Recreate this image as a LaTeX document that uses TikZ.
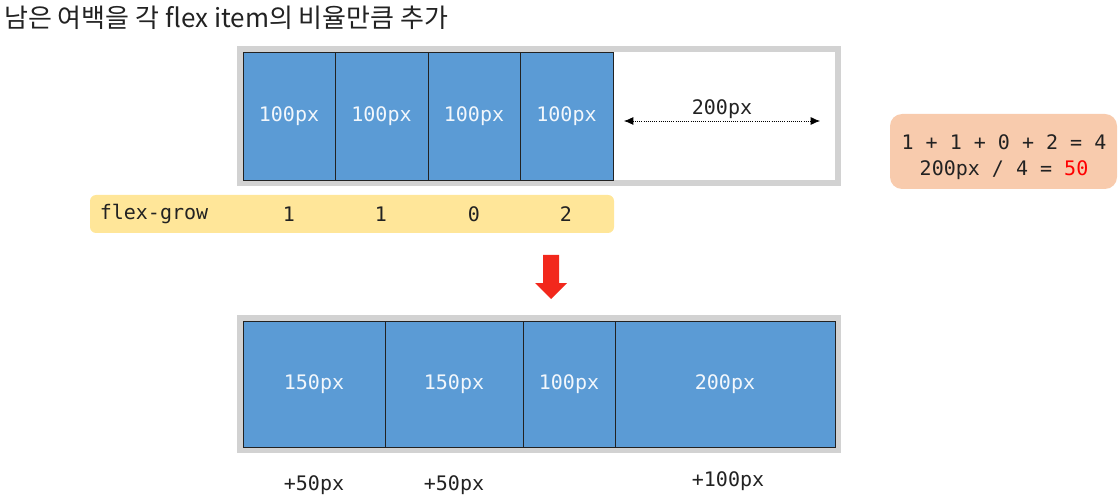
\documentclass[tikz,border=0pt]{standalone}
\usepackage{fontspec}
\setmonofont{DejaVu Sans Mono}
\newfontfamily\krfont{Noto Sans CJK KR}
\usetikzlibrary{arrows.meta}

\definecolor{itemblue}{HTML}{5B9BD5}
\definecolor{framegray}{HTML}{D2D2D2}
\definecolor{growyellow}{HTML}{FFE699}
\definecolor{calcorange}{HTML}{F8CBAD}
\definecolor{downred}{HTML}{F2281C}
\definecolor{ink}{HTML}{222222}

\tikzset{
  frame/.style = {draw=framegray, line width=4.5pt, fill=white},
  item/.style = {fill=itemblue, draw=ink, line width=0.7pt},
  itemlabel/.style = {text=white!92!itemblue, font=\ttfamily\fontsize{15}{18}\selectfont},
  mono/.style = {text=ink, font=\ttfamily\fontsize{15}{18}\selectfont},
  gap/.style = {densely dotted, line width=0.6pt, {Latex[length=7pt,width=6pt]}-{Latex[length=7pt,width=6pt]}}
}

\begin{document}
\begin{tikzpicture}[x=0.75pt, y=-0.75pt]
\useasboundingbox (0,0) rectangle (1120,495);
\node[anchor=west, text=ink, font=\krfont\fontsize{19.5}{22}\selectfont, inner sep=0pt] (title) at (4,18) {남은 여백을 각 flex item의 비율만큼 추가};

% before
\draw[frame] (240,49) rectangle (838,183);
\draw[item] (243,52) rectangle node[itemlabel] (b1) {100px} (335,180);
\draw[item] (335,52) rectangle node[itemlabel] (b2) {100px} (428,180);
\draw[item] (428,52) rectangle node[itemlabel] (b3) {100px} (520,180);
\draw[item] (520,52) rectangle node[itemlabel] (b4) {100px} (613,180);
\coordinate (gapl) at (624,121);
\coordinate (gapr) at (820,121);
\draw[gap] (gapl) -- (gapr);
\node[mono] (gaplabel) at (722,109) {200px};

% flex-grow
\fill[growyellow, rounded corners=4.5pt] (90,195) rectangle (614,233);
\node[mono] (grow) at (154,214) {flex-grow};
\foreach \x/\g [count=\i] in {289/1, 381/1, 474/0, 566/2}
  \node[mono] (g\i) at (\x,214) {\g};

% sum
\fill[calcorange, rounded corners=9pt] (890,114) rectangle (1117,189);
\node[mono] (sum) at (1004,142) {1 + 1 + 0 + 2 = 4};
\node[mono] (share) at (1004,170) {200px / 4 = {\color{red}50}};

\fill[downred] (543,255) -- (559,255) -- (559,283) -- (567,283) -- (551,299) -- (535,283) -- (543,283) -- cycle;

% after
\draw[frame] (240,318) rectangle (838,450);
\draw[item] (243,321) rectangle node[itemlabel] (a1) {150px} (385,447);
\draw[item] (385,321) rectangle node[itemlabel] (a2) {150px} (523,447);
\draw[item] (523,321) rectangle node[itemlabel] (a3) {100px} (615,447);
\draw[item] (615,321) rectangle node[itemlabel] (a4) {200px} (835,447);
\node[mono] (p1) at (314,485) {+50px};
\node[mono] (p2) at (454,485) {+50px};
\node[mono] (p4) at (728,481) {+100px};
\end{tikzpicture}
\end{document}
